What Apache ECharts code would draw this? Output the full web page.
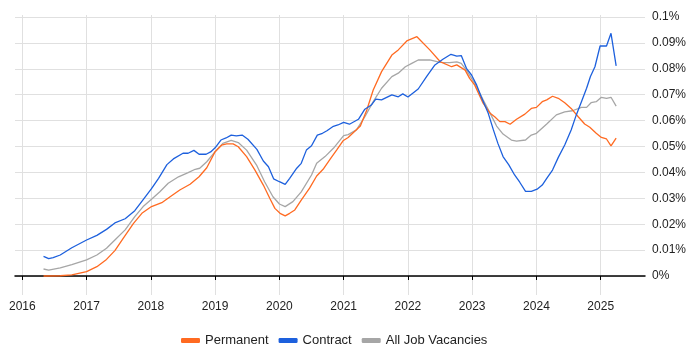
<!DOCTYPE html>
<html>
<head>
<meta charset="utf-8">
<script src="https://cdn.jsdelivr.net/npm/echarts@6/dist/echarts.min.js"></script>
<style>
  html, body { margin: 0; padding: 0; background: #fff; }
  #chart { width: 700px; height: 350px; }
</style>
</head>
<body>
<div id="chart"></div>
<script>
// year ticks on the x axis
var yearTicks = [2016, 2017, 2018, 2019, 2020, 2021, 2022, 2023, 2024, 2025]
// y ticks, in percent
var pctTicks = [0, 0.01, 0.02, 0.03, 0.04, 0.05, 0.06, 0.07, 0.08, 0.09, 0.1]

// [decimal year, % of vacancies]
var permanent = [
  [2016.33, 0.0], [2016.59, 0.0001], [2016.77, 0.0004], [2017.0, 0.0017], [2017.16, 0.0036],
  [2017.31, 0.0064], [2017.44, 0.0098], [2017.58, 0.0149], [2017.73, 0.0203], [2017.86, 0.0242],
  [2018.01, 0.0268], [2018.17, 0.0283], [2018.3, 0.0306], [2018.45, 0.0332], [2018.61, 0.0354],
  [2018.75, 0.0383], [2018.87, 0.0418], [2019.0, 0.048], [2019.1, 0.0505], [2019.18, 0.051],
  [2019.28, 0.051], [2019.36, 0.0499], [2019.49, 0.0461], [2019.62, 0.0409], [2019.75, 0.0351],
  [2019.85, 0.03], [2019.93, 0.0261], [2020.01, 0.0242], [2020.09, 0.0232], [2020.16, 0.0242],
  [2020.24, 0.0255], [2020.34, 0.0293], [2020.47, 0.0339], [2020.58, 0.0386], [2020.68, 0.0412],
  [2020.79, 0.0451], [2020.89, 0.0486], [2020.99, 0.0522], [2021.07, 0.0535], [2021.26, 0.0579],
  [2021.36, 0.0641], [2021.46, 0.0718], [2021.59, 0.0789], [2021.75, 0.0853], [2021.85, 0.0873],
  [2021.99, 0.0909], [2022.14, 0.0924], [2022.34, 0.0873], [2022.5, 0.0828], [2022.68, 0.0808],
  [2022.76, 0.0815], [2022.89, 0.0795], [2022.96, 0.0763], [2023.04, 0.0737], [2023.17, 0.0667],
  [2023.28, 0.0628], [2023.35, 0.0615], [2023.43, 0.0596], [2023.51, 0.0596], [2023.59, 0.0586],
  [2023.69, 0.0605], [2023.82, 0.0625], [2023.92, 0.0647], [2024.0, 0.0651], [2024.09, 0.0673],
  [2024.16, 0.068], [2024.25, 0.0694], [2024.34, 0.0686], [2024.44, 0.0669], [2024.54, 0.0647],
  [2024.65, 0.0615], [2024.75, 0.0587], [2024.83, 0.0574], [2024.93, 0.0551], [2025.01, 0.0535],
  [2025.09, 0.0529], [2025.16, 0.0502], [2025.24, 0.0532]
]
var contract = [
  [2016.33, 0.0076], [2016.41, 0.0067], [2016.48, 0.0071], [2016.59, 0.0081], [2016.77, 0.0109],
  [2017.0, 0.0139], [2017.16, 0.0157], [2017.31, 0.018], [2017.44, 0.0205], [2017.6, 0.0221],
  [2017.75, 0.0252], [2017.86, 0.0288], [2018.01, 0.0337], [2018.12, 0.0377], [2018.25, 0.043],
  [2018.35, 0.0452], [2018.5, 0.0474], [2018.58, 0.0474], [2018.67, 0.0485], [2018.75, 0.047],
  [2018.86, 0.047], [2018.93, 0.0479], [2019.0, 0.0495], [2019.09, 0.0525], [2019.17, 0.0533],
  [2019.25, 0.0544], [2019.33, 0.0541], [2019.42, 0.0544], [2019.51, 0.0528], [2019.65, 0.0489],
  [2019.75, 0.0444], [2019.83, 0.0422], [2019.91, 0.0375], [2020.0, 0.0364], [2020.09, 0.0354],
  [2020.16, 0.0377], [2020.27, 0.0416], [2020.34, 0.0435], [2020.42, 0.0486], [2020.5, 0.0503],
  [2020.59, 0.0544], [2020.67, 0.0551], [2020.74, 0.0561], [2020.84, 0.0578], [2020.91, 0.0583],
  [2021.0, 0.0593], [2021.09, 0.0586], [2021.23, 0.0605], [2021.33, 0.0644], [2021.43, 0.066],
  [2021.5, 0.0683], [2021.59, 0.068], [2021.75, 0.0699], [2021.85, 0.0692], [2021.92, 0.0703],
  [2022.0, 0.0691], [2022.16, 0.0722], [2022.29, 0.077], [2022.42, 0.0815], [2022.55, 0.0838],
  [2022.67, 0.0856], [2022.76, 0.0849], [2022.83, 0.0851], [2022.91, 0.0802], [2022.99, 0.0776],
  [2023.07, 0.0737], [2023.14, 0.0692], [2023.25, 0.0628], [2023.33, 0.0564], [2023.4, 0.0512],
  [2023.48, 0.0461], [2023.57, 0.0429], [2023.66, 0.039], [2023.74, 0.0362], [2023.83, 0.0327],
  [2023.92, 0.0327], [2024.01, 0.0335], [2024.09, 0.0351], [2024.16, 0.0377], [2024.25, 0.0409],
  [2024.34, 0.0458], [2024.44, 0.0506], [2024.54, 0.0564], [2024.62, 0.0622], [2024.7, 0.0673],
  [2024.78, 0.0725], [2024.84, 0.077], [2024.91, 0.0808], [2024.99, 0.0888], [2025.09, 0.0888],
  [2025.16, 0.0937], [2025.24, 0.0811]
]
var allJobs = [
  [2016.33, 0.0027], [2016.41, 0.0023], [2016.59, 0.0031], [2016.77, 0.0044], [2017.0, 0.0062],
  [2017.16, 0.0081], [2017.31, 0.0107], [2017.44, 0.0139], [2017.6, 0.0178], [2017.75, 0.0229],
  [2017.88, 0.0268], [2018.01, 0.0296], [2018.14, 0.0325], [2018.27, 0.0358], [2018.43, 0.0383],
  [2018.58, 0.0399], [2018.69, 0.0412], [2018.76, 0.0416], [2018.87, 0.0441], [2019.0, 0.048],
  [2019.12, 0.0512], [2019.25, 0.0524], [2019.36, 0.0515], [2019.49, 0.0486], [2019.65, 0.0426],
  [2019.77, 0.0364], [2019.9, 0.0306], [2020.0, 0.0278], [2020.09, 0.0268], [2020.21, 0.0287],
  [2020.34, 0.0325], [2020.5, 0.039], [2020.58, 0.0435], [2020.71, 0.0461], [2020.84, 0.0493],
  [2021.0, 0.0542], [2021.07, 0.0546], [2021.2, 0.0564], [2021.33, 0.0615], [2021.46, 0.0673],
  [2021.59, 0.0725], [2021.75, 0.077], [2021.85, 0.0783], [2021.96, 0.0808], [2022.06, 0.0821],
  [2022.16, 0.0834], [2022.34, 0.0834], [2022.5, 0.0825], [2022.65, 0.0824], [2022.76, 0.0827],
  [2022.83, 0.0821], [2022.91, 0.0795], [2023.04, 0.0744], [2023.17, 0.068], [2023.28, 0.0628],
  [2023.38, 0.0579], [2023.48, 0.0548], [2023.61, 0.0525], [2023.69, 0.0521], [2023.83, 0.0525],
  [2023.92, 0.0544], [2024.0, 0.0551], [2024.16, 0.0587], [2024.31, 0.0622], [2024.44, 0.0634],
  [2024.56, 0.0638], [2024.7, 0.0651], [2024.78, 0.0651], [2024.85, 0.0669], [2024.93, 0.0673],
  [2025.01, 0.069], [2025.09, 0.0686], [2025.16, 0.069], [2025.24, 0.0656]
]

var chart = echarts.init(document.getElementById('chart'))

var option = {
  animation: false,
  textStyle: { fontFamily: 'Liberation Sans, Arial, sans-serif' },
  grid: { left: 15, right: 55, top: 15, bottom: 55 },
  legend: {
    left: 176,
    top: 329,
    itemWidth: 19,
    itemHeight: 5,
    itemGap: 10,
    icon: 'roundRect',
    textStyle: { fontSize: 13, color: '#222' },
    data: ['Permanent', 'Contract', 'All Job Vacancies']
  },
  xAxis: {
    type: 'value',
    min: 2015.886,
    max: 2025.689,
    axisLine: { lineStyle: { color: '#000', width: 1.5 } },
    axisTick: { show: true, length: 4, customValues: yearTicks, lineStyle: { color: '#000' } },
    axisLabel: {
      customValues: yearTicks,
      color: '#222',
      fontSize: 12,
      margin: 6,
      formatter: function (v) { return String(Math.round(v)) }
    },
    splitLine: { show: true, lineStyle: { color: '#e0e0e0', width: 1 } }
  },
  yAxis: {
    type: 'value',
    position: 'right',
    min: -0.00734,
    max: 0.10077,
    axisLine: { show: false },
    axisTick: { show: false, customValues: pctTicks },
    axisLabel: {
      customValues: pctTicks,
      color: '#222',
      fontSize: 12,
      margin: 7,
      formatter: function (v) { return (+v.toFixed(2)) + '%' }
    },
    splitLine: { show: true, lineStyle: { color: '#e0e0e0', width: 1 } }
  },
  series: [
    {
      name: 'Permanent',
      type: 'line',
      showSymbol: false,
      z: 3,
      itemStyle: { color: '#ff6a21' },
      lineStyle: { color: '#ff6a21', width: 1.3 },
      data: permanent
    },
    {
      name: 'Contract',
      type: 'line',
      showSymbol: false,
      z: 4,
      itemStyle: { color: '#1d60dd' },
      lineStyle: { color: '#1d60dd', width: 1.3 },
      data: contract
    },
    {
      name: 'All Job Vacancies',
      type: 'line',
      showSymbol: false,
      z: 2,
      itemStyle: { color: '#a6a6a6' },
      lineStyle: { color: '#a6a6a6', width: 1.3 },
      data: allJobs
    }
  ]
}

chart.setOption(option)
</script>
</body>
</html>
